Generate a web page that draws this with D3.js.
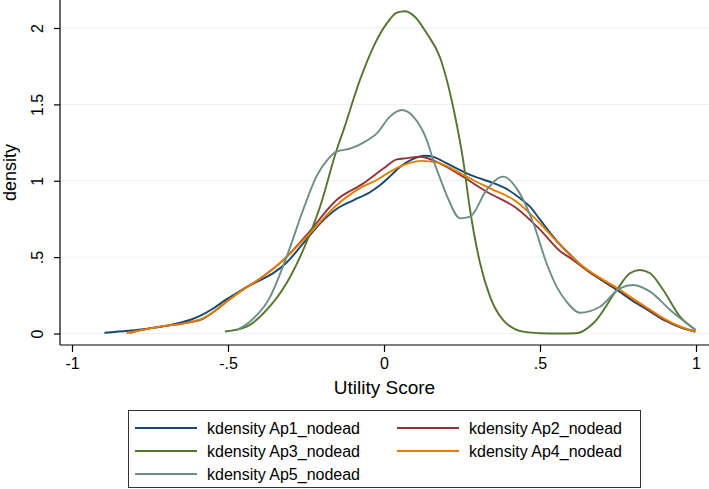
<!DOCTYPE html>
<html>
<head>
<meta charset="utf-8">
<script src="https://cdn.jsdelivr.net/npm/d3@7/dist/d3.min.js"></script>
<style>
  html, body { margin: 0; padding: 0; background: #fff; }
  svg { display: block; font-family: "Liberation Sans", Arial, sans-serif; }
</style>
</head>
<body>
<svg id="chart" width="709" height="489"></svg>
<script>
// ---- data ----
const seriesNames = ["kdensity Ap1_nodead", "kdensity Ap2_nodead", "kdensity Ap3_nodead", "kdensity Ap4_nodead", "kdensity Ap5_nodead"];
const seriesColors = ["#1a476f", "#90353b", "#55752f", "#e37e00", "#6e8e84"];
const xTicks = [-1, -0.5, 0, 0.5, 1];
const xTickLabels = ["-1", "-.5", "0", ".5", "1"];
const yTicks = [0, 0.5, 1, 1.5, 2];
const yTickLabels = ["0", ".5", "1", "1.5", "2"];

const ap1 = [[-0.896,0.005],[-0.82,0.018],[-0.771,0.028],[-0.70,0.05],[-0.66,0.068],[-0.62,0.09],[-0.59,0.115],[-0.55,0.16],[-0.504,0.225],[-0.46,0.28],[-0.43,0.315],[-0.39,0.355],[-0.355,0.395],[-0.312,0.465],[-0.259,0.59],[-0.205,0.72],[-0.152,0.815],[-0.098,0.872],[-0.045,0.925],[-0.013,0.97],[0.02,1.03],[0.051,1.09],[0.09,1.14],[0.131,1.164],[0.16,1.155],[0.2,1.115],[0.265,1.049],[0.3,1.02],[0.35,0.985],[0.39,0.95],[0.436,0.885],[0.468,0.83],[0.5,0.745],[0.55,0.615],[0.6,0.51],[0.65,0.415],[0.7,0.345],[0.75,0.28],[0.8,0.21],[0.85,0.148],[0.9,0.085],[0.95,0.04],[0.997,0.012]];
const ap2 = [[-0.815,0.003],[-0.77,0.025],[-0.718,0.045],[-0.632,0.07],[-0.579,0.098],[-0.54,0.15],[-0.504,0.21],[-0.45,0.29],[-0.397,0.36],[-0.323,0.48],[-0.248,0.645],[-0.152,0.874],[-0.066,0.983],[-0.002,1.08],[0.041,1.14],[0.073,1.148],[0.115,1.157],[0.179,1.114],[0.244,1.038],[0.329,0.928],[0.425,0.82],[0.5,0.68],[0.564,0.54],[0.6,0.49],[0.65,0.415],[0.7,0.35],[0.75,0.29],[0.8,0.22],[0.85,0.155],[0.9,0.09],[0.95,0.043],[0.998,0.012]];
const ap3 = [[-0.51,0.013],[-0.44,0.045],[-0.376,0.154],[-0.312,0.33],[-0.259,0.547],[-0.205,0.83],[-0.152,1.2],[-0.13,1.33],[-0.077,1.66],[-0.034,1.877],[0.009,2.03],[0.041,2.10],[0.067,2.11],[0.099,2.074],[0.137,1.965],[0.179,1.81],[0.225,1.45],[0.254,1.13],[0.275,0.82],[0.308,0.46],[0.34,0.24],[0.382,0.088],[0.446,0.012],[0.5,0.002],[0.564,0.0],[0.617,0.002],[0.671,0.067],[0.746,0.285],[0.788,0.394],[0.82,0.416],[0.853,0.394],[0.895,0.285],[0.949,0.11],[0.999,0.023]];
const ap4 = [[-0.825,0.003],[-0.77,0.025],[-0.718,0.045],[-0.632,0.07],[-0.579,0.1],[-0.54,0.15],[-0.504,0.21],[-0.45,0.29],[-0.397,0.36],[-0.323,0.48],[-0.248,0.634],[-0.152,0.84],[-0.07,0.96],[-0.023,1.005],[0.02,1.06],[0.073,1.11],[0.12,1.13],[0.169,1.12],[0.244,1.05],[0.29,1.0],[0.34,0.95],[0.425,0.863],[0.5,0.72],[0.564,0.58],[0.6,0.505],[0.65,0.42],[0.7,0.355],[0.75,0.295],[0.8,0.225],[0.85,0.16],[0.9,0.095],[0.95,0.045],[0.998,0.012]];
const ap5 = [[-0.472,0.023],[-0.43,0.077],[-0.365,0.24],[-0.312,0.503],[-0.259,0.81],[-0.216,1.03],[-0.18,1.14],[-0.152,1.19],[-0.109,1.21],[-0.066,1.25],[-0.023,1.31],[0.019,1.42],[0.057,1.463],[0.094,1.42],[0.137,1.267],[0.158,1.136],[0.179,1.02],[0.201,0.905],[0.244,0.754],[0.276,0.765],[0.329,0.94],[0.382,1.027],[0.425,0.95],[0.479,0.72],[0.521,0.46],[0.555,0.3],[0.585,0.208],[0.628,0.136],[0.692,0.175],[0.756,0.296],[0.799,0.318],[0.853,0.274],[0.917,0.154],[0.999,0.023]];
const seriesData = [ap1, ap2, ap3, ap4, ap5];

// ---- layout ----
const svg = d3.select("#chart");
const plotLeft = 60, plotRight = 709, plotTop = 0, plotBottom = 345;
const x = d3.scaleLinear().domain([-1, 1]).range([72, 696]);
const y = d3.scaleLinear().domain([0, 2]).range([333.5, 28]);

// gridlines
svg.append("g").selectAll("line").data(yTicks).join("line")
  .attr("x1", plotLeft).attr("x2", plotRight)
  .attr("y1", d => y(d)).attr("y2", d => y(d))
  .attr("stroke", "#eaf2f3").attr("stroke-width", 1);

// curves
const line = d3.line().x(d => x(d[0])).y(d => y(d[1])).curve(d3.curveMonotoneX);
svg.append("g").selectAll("path").data(seriesData).join("path")
  .attr("d", d => line(d))
  .attr("fill", "none")
  .attr("stroke", (d, i) => seriesColors[i])
  .attr("stroke-width", 1.9)
  .attr("stroke-linejoin", "round");

// y axis
const yAxis = d3.axisLeft(y).tickValues(yTicks).tickFormat((d, i) => yTickLabels[i]).tickSize(6).tickSizeOuter(0);
const gy = svg.append("g").attr("transform", `translate(${plotLeft},0)`).call(yAxis);
gy.select(".domain").remove();
gy.append("line").attr("x1", 0).attr("x2", 0).attr("y1", plotTop).attr("y2", plotBottom).attr("stroke", "#000").attr("stroke-width", 1.2);
gy.selectAll(".tick line").attr("stroke", "#000").attr("stroke-width", 1.2);
gy.selectAll(".tick text")
  .attr("font-size", 16).attr("fill", "#000")
  .attr("x", null).attr("dy", null)
  .attr("text-anchor", "middle")
  .attr("transform", "translate(-17,0) rotate(-90)");

// x axis
const xAxis = d3.axisBottom(x).tickValues(xTicks).tickFormat((d, i) => xTickLabels[i]).tickSize(7).tickSizeOuter(0);
const gx = svg.append("g").attr("transform", `translate(0,${plotBottom})`).call(xAxis);
gx.select(".domain").remove();
gx.append("line").attr("x1", plotLeft).attr("x2", plotRight).attr("y1", 0).attr("y2", 0).attr("stroke", "#000").attr("stroke-width", 1.2);
gx.selectAll(".tick line").attr("stroke", "#000").attr("stroke-width", 1.2);
gx.selectAll(".tick text").attr("font-size", 16).attr("fill", "#000").attr("y", 13);

// axis titles
svg.append("text").attr("x", (plotLeft + plotRight) / 2).attr("y", 394)
  .attr("text-anchor", "middle").attr("font-size", 19).text("Utility Score");
svg.append("text").attr("transform", `translate(16,${(plotTop + plotBottom) / 2}) rotate(-90)`)
  .attr("text-anchor", "middle").attr("font-size", 18).text("density");

// legend
const legend = svg.append("g");
legend.append("rect").attr("x", 128.5).attr("y", 410.5).attr("width", 512).attr("height", 77)
  .attr("fill", "#fff").attr("stroke", "#333").attr("stroke-width", 1);
const colX = [135, 397];
const rowY = [428, 451, 474];
seriesNames.forEach((name, i) => {
  const cx = colX[i % 2], cy = rowY[Math.floor(i / 2)];
  legend.append("line").attr("x1", cx).attr("x2", cx + 62).attr("y1", cy).attr("y2", cy)
    .attr("stroke", seriesColors[i]).attr("stroke-width", 1.9);
  legend.append("text").attr("x", cx + 72).attr("y", cy).attr("dy", "0.35em")
    .attr("font-size", 16).attr("fill", "#000").text(name);
});
</script>
</body>
</html>
